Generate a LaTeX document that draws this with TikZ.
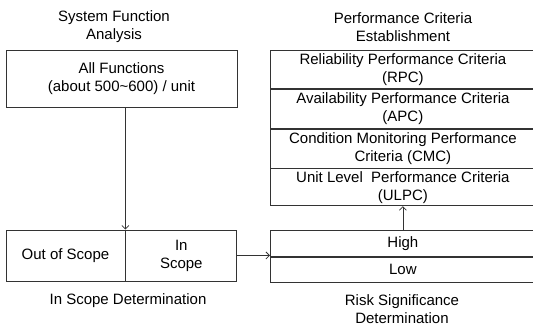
\documentclass[tikz,border=0pt]{standalone}
\usepackage{fontspec}
\setmainfont{Liberation Sans}
\usetikzlibrary{positioning,arrows.meta}
\tikzset{
  cell/.style={draw=black!80, line width=0.8pt, inner sep=0pt, align=center,
    font=\fontsize{15}{18}\selectfont},
  caption/.style={align=center, font=\fontsize{15}{18}\selectfont},
  link/.style={draw=black!80, line width=0.8pt}
}
\begin{document}
\begin{tikzpicture}[x=1pt, y=1pt, node distance=0pt, auto, >={Straight Barb[length=3.5pt,width=7pt]}]
            \clip (0,0) rectangle (533,326);
            % left column
            \node(SysFn)[caption] at (114,299) {System Function\\Analysis};
            \node(AllFn)[cell, minimum width=231pt, minimum height=57pt] at (121.5,247.5) {All Functions\\(about 500\textasciitilde600) / unit};
            \node(OutScope)[cell, minimum width=119pt, minimum height=51pt] at (65.5,70.5) {Out of Scope};
            \node(InScope)[cell, minimum width=111pt, minimum height=51pt, right=0pt of OutScope] {In\\Scope};
            \node(ScopeDet)[caption] at (128,25) {In Scope Determination};
            % right column
            \node(PerfCrit)[caption] at (403,299) {Performance Criteria\\Establishment};
            \node(RPC)[cell, minimum width=265pt, minimum height=38pt, anchor=north west] at (270,276) {Reliability Performance Criteria\\(RPC)};
            \node(APC)[cell, minimum width=265pt, minimum height=39pt, below=0pt of RPC] {Availability Performance Criteria\\(APC)};
            \node(CMC)[cell, minimum width=265pt, minimum height=39pt, below=0pt of APC] {Condition Monitoring Performance\\Criteria (CMC)};
            \node(ULPC)[cell, minimum width=265pt, minimum height=37pt, below=0pt of CMC] {Unit Level~ Performance Criteria\\(ULPC)};
            \node(High)[cell, minimum width=265pt, minimum height=26pt, anchor=north west] at (270,96) {High};
            \node(Low)[cell, minimum width=265pt, minimum height=25pt, below=0pt of High] {Low};
            \node(RiskDet)[caption] at (402,16.5) {Risk Significance\\Determination};
            % connectors
            \draw[link,->](AllFn.south -| OutScope.east) to (OutScope.north east);
            \draw[link,->](InScope.east) to (InScope.east -| High.west);
            \draw[link,->](High.north) to (ULPC.south);
\end{tikzpicture}
\end{document}
